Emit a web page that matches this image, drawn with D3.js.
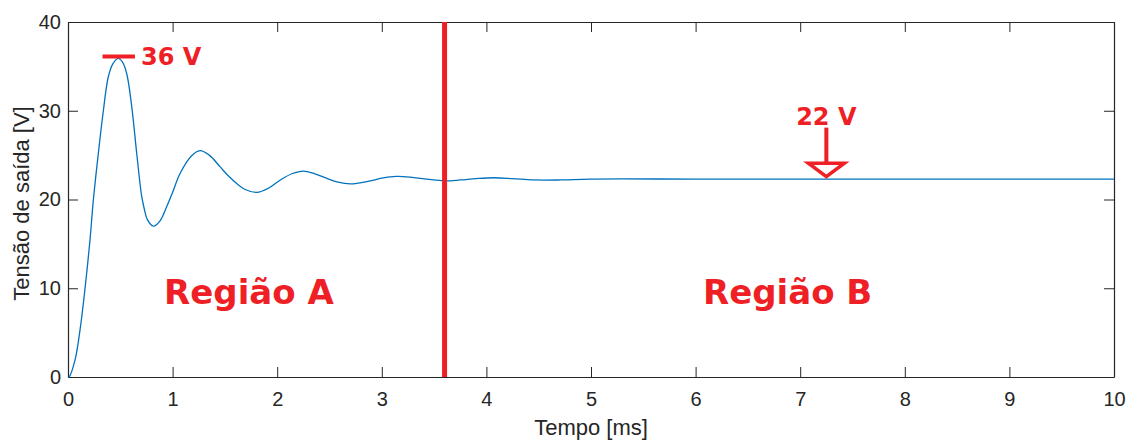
<!DOCTYPE html>
<html>
<head>
<meta charset="utf-8">
<script src="https://cdn.jsdelivr.net/npm/d3@7"></script>
<style>
	body { margin: 0; background: #fff; }
	.axis text { font-family: "Liberation Sans", Arial, sans-serif; fill: #262626; }
	.axis path, .axis line { stroke: #262626; }
	.note { font-family: "DejaVu Sans", sans-serif; font-weight: bold; fill: #ee1f25; }
</style>
</head>
<body>
<div id="chart-area"></div>
<script>
const svgWidth = 1127,
	svgHeight = 442;
const margin = {left: 68, right: 13, top: 22, bottom: 65};

const areaWidth = svgWidth - margin.left - margin.right;
const areaHeight = svgHeight - margin.top - margin.bottom;

// output voltage
const timeMs = [0, 0.01, 0.067, 0.115, 0.163, 0.21, 0.242, 0.29, 0.338, 0.385, 0.43, 0.481, 0.52, 0.561,
	0.609, 0.657, 0.704, 0.73, 0.76, 0.816, 0.88, 0.944, 1.0, 1.07, 1.18, 1.262, 1.35, 1.453, 1.53, 1.613, 1.70,
	1.804, 1.92, 2.03, 2.14, 2.25, 2.36, 2.47, 2.58, 2.70, 2.89, 3.0, 3.14, 3.29, 3.43, 3.60, 3.75, 3.9,
	4.07, 4.25, 4.45, 4.70, 5.0, 6.0, 7.0, 8.0, 9.0, 10.0];
const voltage = [0, 0, 1.9, 5.3, 10.0, 15.4, 19.9, 25.2, 30.0, 33.8, 35.3, 35.9, 35.5, 34.2,
	30.5, 25.2, 20.4, 18.9, 17.7, 17.0, 17.6, 19.2, 20.8, 22.9, 24.9, 25.5, 25.0, 23.7, 22.7, 21.8, 21.1,
	20.8, 21.3, 22.2, 22.9, 23.2, 22.9, 22.4, 21.95, 21.75, 22.1, 22.4, 22.6, 22.5, 22.3, 22.1, 22.2, 22.35,
	22.45, 22.35, 22.2, 22.2, 22.3, 22.3, 22.3, 22.3, 22.3, 22.3];

const xTicks = [0, 1, 2, 3, 4, 5, 6, 7, 8, 9, 10];
const yTicks = [0, 10, 20, 30, 40];

const boundaryMs = 3.6;
const peakV = 36.1, peakFrom = 0.33, peakTo = 0.64;
const steadyV = 22.35, arrowMs = 7.25, arrowTopV = 28.1;
const regionLabels = [
	{text: "Região A", t: 1.73, v: 8.2},
	{text: "Região B", t: 6.88, v: 8.2}
];

const data = timeMs.map((t, i) => ({t: t, v: voltage[i]}));

const svg = d3.select("#chart-area")
	.append("svg")
	.attr("width", svgWidth)
	.attr("height", svgHeight);

const area = svg.append("g")
	.attr("transform", `translate(${margin.left}, ${margin.top})`);

const x = d3.scaleLinear().domain([0, 10]).range([0, areaWidth]);
const y = d3.scaleLinear().domain([0, 40]).range([areaHeight, 0]);

// axes, ticks pointing inward like matlab
area.append("g")
	.attr("class", "axis")
	.attr("transform", `translate(0, ${areaHeight})`)
	.call(d3.axisBottom(x).tickValues(xTicks).tickSizeInner(-10).tickSizeOuter(0).tickPadding(15))
	.attr("font-size", "20px");

area.append("g")
	.attr("class", "axis")
	.call(d3.axisLeft(y).tickValues(yTicks).tickSizeInner(-10).tickSizeOuter(0).tickPadding(7))
	.attr("font-size", "20px");

area.append("g")
	.attr("class", "axis")
	.call(d3.axisTop(x).tickValues(xTicks).tickSizeInner(-10).tickSizeOuter(0).tickFormat(""));

area.append("g")
	.attr("class", "axis")
	.attr("transform", `translate(${areaWidth}, 0)`)
	.call(d3.axisRight(y).tickValues(yTicks).tickSizeInner(-10).tickSizeOuter(0).tickFormat(""));

area.selectAll(".axis path").attr("stroke-width", 1.2);

// labels
svg.append("text")
	.attr("x", margin.left + areaWidth / 2)
	.attr("y", 435)
	.attr("font-family", "Liberation Sans, Arial, sans-serif")
	.attr("font-size", "22px")
	.attr("fill", "#262626")
	.attr("text-anchor", "middle")
	.text("Tempo [ms]");

svg.append("text")
	.attr("transform", `translate(29, ${margin.top + areaHeight / 2 + 4}) rotate(-90)`)
	.attr("font-family", "Liberation Sans, Arial, sans-serif")
	.attr("font-size", "22px")
	.attr("fill", "#262626")
	.attr("text-anchor", "middle")
	.text("Tensão de saída [V]");

// the signal
const line = d3.line()
	.x(d => x(d.t))
	.y(d => y(d.v))
	.curve(d3.curveCatmullRom.alpha(0.5));

area.append("path")
	.attr("fill", "none")
	.attr("stroke", "#0072bd")
	.attr("stroke-width", 1.3)
	.attr("d", line(data));

// region boundary
area.append("line")
	.attr("x1", x(boundaryMs)).attr("x2", x(boundaryMs))
	.attr("y1", y(40)).attr("y2", y(0))
	.attr("stroke", "#ee1f25")
	.attr("stroke-width", 5);

// peak marker
area.append("line")
	.attr("x1", x(peakFrom)).attr("x2", x(peakTo))
	.attr("y1", y(peakV)).attr("y2", y(peakV))
	.attr("stroke", "#ee1f25")
	.attr("stroke-width", 4);

area.append("text")
	.attr("class", "note")
	.attr("x", x(peakTo) + 6)
	.attr("y", y(peakV) + 8)
	.attr("font-size", "24px")
	.text("36 V");

// steady state arrow
const ax = x(arrowMs), tipY = y(steadyV);
area.append("line")
	.attr("x1", ax).attr("x2", ax)
	.attr("y1", y(arrowTopV)).attr("y2", tipY - 15)
	.attr("stroke", "#ee1f25")
	.attr("stroke-width", 4);

area.append("path")
	.attr("d", `M${ax - 18},${tipY - 15.5} L${ax + 18},${tipY - 15.5} L${ax},${tipY - 2} Z`)
	.attr("fill", "#fff")
	.attr("stroke", "#ee1f25")
	.attr("stroke-width", 3.5)
	.attr("stroke-linejoin", "miter");

area.append("text")
	.attr("class", "note")
	.attr("x", ax)
	.attr("y", y(arrowTopV) - 3)
	.attr("font-size", "24px")
	.attr("text-anchor", "middle")
	.text("22 V");

// region names
area.selectAll(".region")
	.data(regionLabels)
	.enter().append("text")
	.attr("class", "note region")
	.attr("x", d => x(d.t))
	.attr("y", d => y(d.v))
	.attr("font-size", "34px")
	.attr("text-anchor", "middle")
	.text(d => d.text);
</script>
</body>
</html>
